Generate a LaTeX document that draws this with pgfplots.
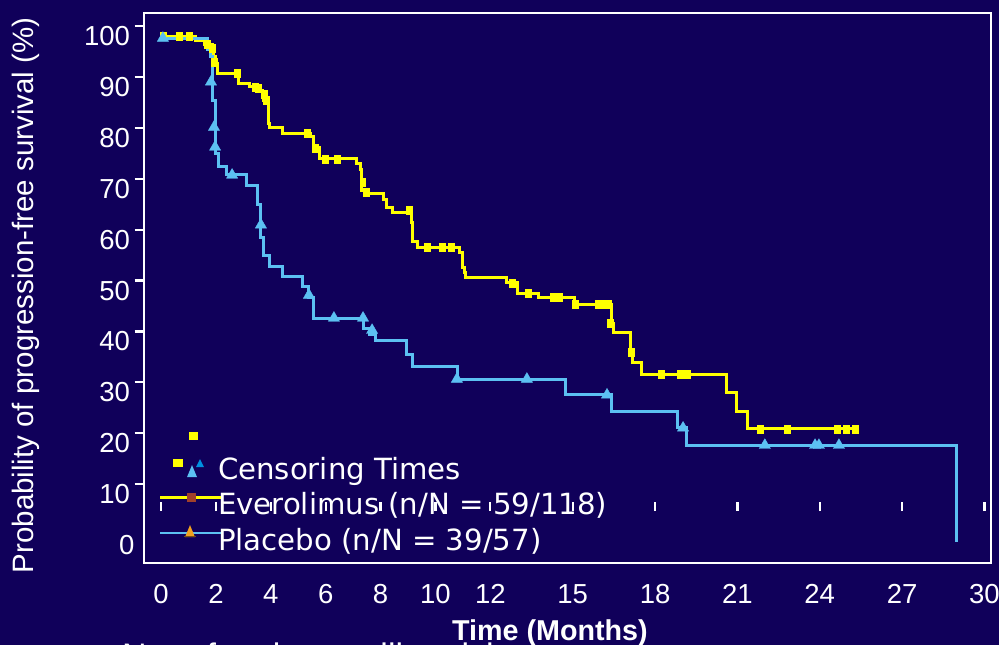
\documentclass[border=0pt]{standalone}
\usepackage{fontspec}
\setmainfont{Liberation Sans}
\newfontfamily\dejavu{DejaVu Sans}
\usepackage{pgfplots}
\pgfplotsset{compat=1.18}
\definecolor{bg}{RGB}{16,0,90}
\definecolor{ylw}{RGB}{255,255,0}
\definecolor{blu}{RGB}{92,192,242}
\definecolor{dkblu}{RGB}{0,144,224}
\definecolor{brn}{RGB}{160,64,42}
\definecolor{org}{RGB}{240,160,32}
\begin{document}
\begin{tikzpicture}
\useasboundingbox[fill=bg] (0bp,0bp) rectangle (999bp,645bp);
\begin{axis}[
  at={(144bp,82.3bp)}, anchor=south west, scale only axis,
  width=847bp, height=550bp,
  xmin=-0.62, xmax=30.24, ymin=-3.48, ymax=104.6,
  axis line style={white, line width=2.2bp},
  xtick={0,2,4,6,8,10,12,15,18,21,24,27,30},
  ytick={10,20,...,100},
  extra y ticks={0}, extra y tick style={major tick length=0pt},
  tick pos=left, tick align=center, major tick length=9bp,
  tick style={white, line width=2.2bp},
  xtick style={yshift=56bp},
  ytick style={xshift=-5bp, yshift=10bp},
  ticklabel style={text=white, font=\fontsize{27.5bp}{33bp}\selectfont},
  /pgf/number format/assume math mode=true,
  xticklabel style={yshift=-14bp},
  yticklabel style={xshift=-6bp},
  ylabel={Probability of progression-free survival (\%)},
  every axis y label/.style={at={(axis description cs:-0.1393,0.486)}, rotate=90, anchor=center},
  ylabel style={text=white, font=\fontsize{29.5bp}{35bp}\selectfont},
  xlabel={Time (Months)},
  every axis x label/.style={at={(axis description cs:0.4793,-0.1423)}, anchor=base},
  xlabel style={text=white, font=\bfseries\fontsize{28.7bp}{34bp}\selectfont},
  legend cell align=left,
  legend style={at={(axis description cs:0.0189,0.192)}, anchor=north west,
    draw=none, fill=none, inner sep=0pt, outer sep=0pt, row sep=5.5bp,
    font=\dejavu\fontsize{29.2bp}{35bp}\selectfont, text=white,
    nodes={inner xsep=2bp, inner ysep=0pt, text height=22bp, text depth=8bp},
    /tikz/every odd column/.append style={column sep=0bp}},
]
% Everolimus step curve
\addplot[const plot, ylw, line width=3bp, forget plot] coordinates {
(0,100) (1.24,99.2) (1.60,98.4) (1.89,97.6) (1.93,95.9) (2.00,94.7) (2.04,92.7)
(2.84,90.6) (3.24,90.0) (3.50,89.4) (3.68,88.4) (3.75,87.4) (3.90,82.9) (3.97,82.1)
(4.44,80.9) (5.43,80.2) (5.54,78.2) (5.76,76.0) (7.14,75.0) (7.25,73.7) (7.32,69.7)
(7.43,69.0) (8.09,67.8) (8.20,66.4) (8.45,65.4) (9.14,63.3) (9.18,59.7) (9.36,58.5)
(10.89,57.4) (10.97,54.6) (11.04,53.6) (11.11,52.5) (12.60,51.5) (12.97,49.5)
(13.77,48.7) (15.08,47.3) (16.43,43.6) (16.50,41.8) (17.09,37.7) (17.16,35.8)
(17.49,33.6) (20.62,29.9) (20.95,26.3) (21.35,22.8) (25.32,22.8)};
% Everolimus censoring
\addplot[only marks, mark=square*, mark size=4.2bp, mark options={xscale=0.7, fill=ylw, draw=ylw}, forget plot] coordinates {
(0.07,100) (0.66,100) (1.02,100) (1.68,98.4) (1.86,97.6) (1.93,94.9) (2.77,92.7)
(3.42,90.0) (3.53,89.8) (3.75,88.6) (3.82,87.4) (5.32,80.9) (5.61,78.0) (5.97,75.8)
(6.41,75.8) (7.35,71.3) (7.47,69.3) (9.03,65.8) (9.69,58.5) (10.24,58.5) (10.56,58.5)
(12.79,51.5) (13.37,49.5) (14.28,48.7) (14.50,48.7) (15.08,47.3) (15.92,47.3)
(16.14,47.3) (16.28,47.3) (16.36,43.6) (17.13,37.9) (18.21,33.6) (18.91,33.6)
(19.16,33.6) (21.82,22.8) (22.81,22.8) (24.63,22.8) (24.95,22.8) (25.28,22.8)};
% Placebo step curve
\addplot[const plot, blu, line width=3bp, forget plot] coordinates {
(0,99.6) (1.71,97.4) (1.79,95.9) (1.86,92.3) (1.89,87.4) (1.97,82.1) (2.00,77.0)
(2.08,74.3) (2.40,72.9) (3.10,70.7) (3.50,67.0) (3.64,60.5) (3.72,56.8) (3.97,54.8)
(4.44,52.7) (5.14,50.7) (5.36,48.7) (5.57,44.6) (7.36,42.6) (7.61,41.3) (7.83,40.1)
(8.96,37.5) (9.18,35.0) (10.82,32.6) (14.75,29.5) (16.43,26.3) (18.83,23.0)
(19.16,19.6) (29.00,0.6)};
% Placebo censoring
\addplot[only marks, mark=triangle*, mark size=6.5bp, mark options={fill=blu, draw=blu}, forget plot] coordinates {
(0.07,99.6) (1.82,91.0) (1.93,82.1) (1.97,78.2) (2.59,72.7) (3.64,62.9) (5.39,49.1)
(6.30,44.6) (7.36,44.6) (7.69,42.2) (10.78,32.6) (13.33,32.6) (16.25,29.5)
(19.02,23.0) (22.00,19.6) (23.83,19.6) (23.97,19.6) (24.70,19.6)};
% legend
\addlegendimage{legend image code/.code={
  \path[draw=none, fill=none] (0bp,0bp) -- (56bp,0bp);
  \fill[ylw, draw=none, overlay] (13bp,5bp) rectangle (23bp,13bp);
  \fill[ylw, draw=none, overlay] (28.5bp,32bp) rectangle (37.5bp,40bp);
  \fill[blu, draw=none, overlay] (27bp,-5bp) -- (37bp,-5bp) -- (32bp,7bp) -- cycle;
  \fill[dkblu, draw=none, overlay] (36bp,5bp) -- (44bp,5bp) -- (40bp,13bp) -- cycle;
}}
\addlegendentry{Censoring Times}
\addlegendimage{legend image code/.code={
  \path[draw=none, fill=none] (0bp,0bp) -- (56bp,0bp);
  \draw[ylw, line width=2.6bp, overlay] (0bp,10bp) -- (62bp,10bp);
  \fill[brn, draw=none, overlay] (27bp,6bp) rectangle (36bp,15bp);
}}
\addlegendentry{Everolimus (n/N = 59/118)}
\addlegendimage{legend image code/.code={
  \path[draw=none, fill=none] (0bp,0bp) -- (56bp,0bp);
  \draw[blu, line width=2.6bp, overlay] (0bp,10bp) -- (62bp,10bp);
  \fill[org, draw=none, overlay] (25bp,6bp) -- (35bp,6bp) -- (30bp,18bp) -- cycle;
  \draw[org!50!black, line width=1.2bp, overlay] (24bp,6.5bp) -- (36bp,6.5bp);
}}
\addlegendentry{Placebo (n/N = 39/57)}
\end{axis}
\node[anchor=base west, text=white, inner sep=0pt, font=\fontsize{34bp}{40bp}\selectfont] at (122bp,-22bp) {No. of patients still at risk};
\end{tikzpicture}
\end{document}
